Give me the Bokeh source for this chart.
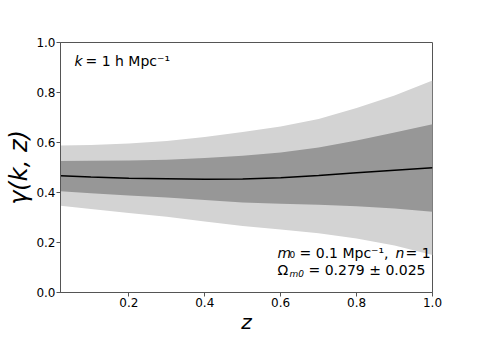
from bokeh.plotting import figure
from bokeh.models import Label, FixedTicker, ColumnDataSource, Range1d
from bokeh.embed import file_html
from bokeh.resources import INLINE

# ---- data ----
z = [0.02, 0.1, 0.2, 0.3, 0.4, 0.5, 0.6, 0.7, 0.8, 0.9, 1.0]
gamma_mean = [0.467, 0.462, 0.457, 0.455, 0.453, 0.454, 0.459, 0.468, 0.479, 0.489, 0.499]
band1_upper = [0.526, 0.527, 0.528, 0.531, 0.538, 0.547, 0.560, 0.580, 0.608, 0.640, 0.673]
band1_lower = [0.405, 0.397, 0.388, 0.380, 0.370, 0.360, 0.355, 0.351, 0.345, 0.336, 0.323]
band2_upper = [0.588, 0.590, 0.596, 0.606, 0.622, 0.642, 0.664, 0.694, 0.738, 0.788, 0.848]
band2_lower = [0.347, 0.334, 0.318, 0.303, 0.284, 0.266, 0.252, 0.237, 0.216, 0.188, 0.150]
x_ticks = [0.2, 0.4, 0.6, 0.8, 1.0]
y_ticks = [0.0, 0.2, 0.4, 0.6, 0.8, 1.0]

src = ColumnDataSource(dict(z=z, m=gamma_mean, u1=band1_upper, l1=band1_lower,
                            u2=band2_upper, l2=band2_lower))

FONT = "DejaVu Sans"
W, H = 463, 336
FL, FR, FT, FB = 60, 432, 42, 296   # target frame edges on the page
p = figure(width=W, height=H, output_backend="svg", toolbar_location=None,
           x_range=Range1d(0.02, 1.0), y_range=Range1d(0.0, 1.0),
           min_border_left=FL, min_border_right=W - FR, min_border_top=FT,
           min_border_bottom=H - FB)
p.background_fill_color = "white"
p.border_fill_color = "white"
p.outline_line_color = "#555555"
p.grid.visible = False

p.varea(x="z", y1="l2", y2="u2", source=src, fill_color="#d3d3d3")
p.varea(x="z", y1="l1", y2="u1", source=src, fill_color="#979797")
p.line(x="z", y="m", source=src, line_color="black", line_width=1.3)

for ax, ticks in ((p.xaxis[0], x_ticks), (p.yaxis[0], y_ticks)):
    ax.ticker = FixedTicker(ticks=ticks, minor_ticks=[])
    ax.axis_line_color = "#555555"
    ax.major_tick_line_color = "#555555"
    ax.major_tick_out = 4
    ax.major_tick_in = 0
    ax.minor_tick_out = 0
    ax.major_label_text_font = FONT
    ax.major_label_text_font_size = "12px"
    ax.major_label_text_color = "black"
    ax.major_label_standoff = 1
    ax.axis_label_text_font = FONT
    ax.axis_label_text_font_style = "italic"
    ax.axis_label_text_color = "black"
    ax.axis_label_standoff = 0

p.xaxis.axis_label = "z"
p.xaxis.axis_label_text_font_size = "20px"
p.yaxis.axis_label = "γ(k, z)"
p.yaxis.axis_label_text_font_size = "24px"
p.yaxis.major_label_overrides = {0.0: "0.0", 1.0: "1.0"}
p.xaxis.major_label_overrides = {1.0: "1.0"}

# page pixel -> data coordinates, for placing annotation text
def zx(px):
    return 0.02 + (px - FL) * 0.98 / (FR - FL)

def gy(py):
    return (FB - py) / (FB - FT)

def lab(text, px, py, size="14px", style="normal"):
    p.add_layout(Label(x=zx(px), y=gy(py), text=text, text_font=FONT,
                       text_font_size=size, text_font_style=style,
                       text_baseline="middle", text_align="left", text_color="black"))

# k = 1 h Mpc^-1
lab("k", 74, 61, style="italic")
lab("= 1 h Mpc⁻¹", 85, 61)

# m0 = 0.1 Mpc^-1,  n = 1
lab("m", 277, 256, style="italic")
lab("₀ = 0.1 Mpc⁻¹,", 289, 256)
lab("n", 395, 256, style="italic")
lab("= 1", 405, 256)

# Omega_m0 = 0.279 +- 0.025
lab("Ω", 277, 273)
lab("m0", 289, 277, size="9px", style="italic")
lab("= 0.279 ± 0.025", 308, 273)

open("out.html", "w").write(file_html(p, INLINE))
